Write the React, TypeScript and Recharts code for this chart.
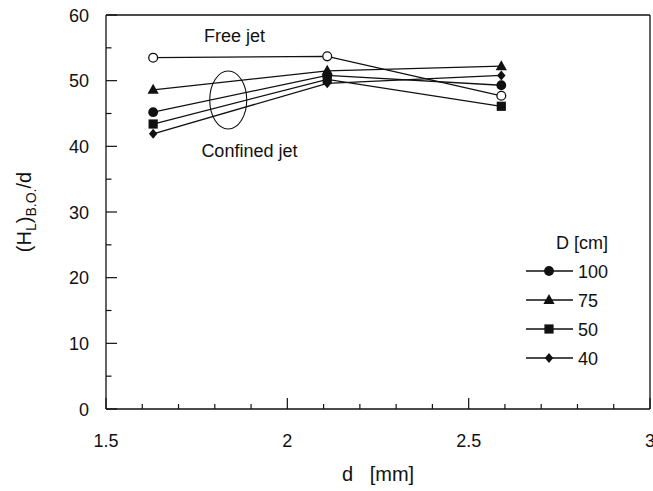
import React from 'react';
import { LineChart, Line, XAxis, YAxis, Legend, ReferenceDot, ReferenceLine, Label } from 'recharts';

const dValues = [1.63, 2.11, 2.59];
const freeJet = [53.5, 53.7, 47.7];
const d100 = [45.2, 50.8, 49.3];
const d75 = [48.6, 51.5, 52.2];
const d50 = [43.4, 50.2, 46.1];
const d40 = [41.9, 49.6, 50.8];
const legendTitle = 'D [cm]';
const legendLabels = ['100', '75', '50', '40'];
const xTicks = [1.5, 1.6, 1.7, 1.8, 1.9, 2.0, 2.1, 2.2, 2.3, 2.4, 2.5, 2.6, 2.7, 2.8, 2.9, 3.0];
const yTicks = [0, 5, 10, 15, 20, 25, 30, 35, 40, 45, 50, 55, 60];
const xTitle = 'd   [mm]';
const annotFree = { x: 1.77, y: 55.9, text: 'Free jet' };
const annotConfined = { x: 1.763, y: 38.4, text: 'Confined jet' };
const ellipseCenter = { x: 1.837, y: 47.05 };

const FONT = '"Liberation Sans", Arial, Helvetica, sans-serif';
const INK = '#111';

const data = dValues.map((d, i) => ({
  d,
  free: freeJet[i],
  s100: d100[i],
  s75: d75[i],
  s50: d50[i],
  s40: d40[i],
}));

type Shape = 'circle' | 'triangle' | 'square' | 'diamond' | 'open';

const Marker = ({ cx, cy, shape }: { cx: number; cy: number; shape: Shape }) => {
  if (cx == null || cy == null) return null;
  switch (shape) {
    case 'circle':
      return <circle cx={cx} cy={cy} r={4.9} fill={INK} />;
    case 'triangle':
      return <polygon points={`${cx},${cy - 6} ${cx - 5.6},${cy + 4} ${cx + 5.6},${cy + 4}`} fill={INK} />;
    case 'square':
      return <rect x={cx - 4.6} y={cy - 4.6} width={9.2} height={9.2} fill={INK} />;
    case 'diamond':
      return <polygon points={`${cx},${cy - 5} ${cx + 4.2},${cy} ${cx},${cy + 5} ${cx - 4.2},${cy}`} fill={INK} />;
    case 'open':
    default:
      return <circle cx={cx} cy={cy} r={4.4} fill="#fff" stroke={INK} strokeWidth={1.3} />;
  }
};

const series: { key: string; shape: Shape; label: string | null }[] = [
  { key: 'free', shape: 'open', label: null },
  { key: 's100', shape: 'circle', label: legendLabels[0] },
  { key: 's75', shape: 'triangle', label: legendLabels[1] },
  { key: 's50', shape: 'square', label: legendLabels[2] },
  { key: 's40', shape: 'diamond', label: legendLabels[3] },
];

const isMajorX = (v: number) => Math.abs(v * 2 - Math.round(v * 2)) < 1e-6;
const fmtX = (v: number) => String(Math.round(v * 10) / 10);

const XTick = (props: any) => {
  const { x, y, payload } = props;
  const v = payload.value as number;
  const major = isMajorX(v);
  return (
    <g>
      <line x1={x} x2={x} y1={y} y2={y - (major ? 11 : 5)} stroke={INK} strokeWidth={1.2} />
      {major && (
        <text x={x} y={y + 38} textAnchor="middle" fontSize={18} fontFamily={FONT} fill={INK}>
          {fmtX(v)}
        </text>
      )}
    </g>
  );
};

const YTick = (props: any) => {
  const { x, y, payload } = props;
  const v = payload.value as number;
  const major = v % 10 === 0;
  return (
    <g>
      <line x1={x} x2={x + (major ? 11 : 5.5)} y1={y} y2={y} stroke={INK} strokeWidth={1.2} />
      {major && (
        <text x={x - 17} y={y + 6.5} textAnchor="end" fontSize={18} fontFamily={FONT} fill={INK}>
          {v}
        </text>
      )}
    </g>
  );
};

const YTitle = (props: any) => {
  const vb = props.viewBox || { x: 0, y: 15, width: 106, height: 394 };
  const cx = vb.x + 31;
  const cy = vb.y + vb.height / 2;
  return (
    <text
      x={cx}
      y={cy}
      transform={`rotate(-90 ${cx} ${cy})`}
      textAnchor="middle"
      fontSize={20}
      fontFamily={FONT}
      fill={INK}
    >
      (H
      <tspan fontSize={14} dy={5}>L</tspan>
      <tspan dy={-5}>)</tspan>
      <tspan fontSize={14} dy={5}>B.O.</tspan>
      <tspan dy={-5}>/d</tspan>
    </text>
  );
};

const XTitle = (props: any) => {
  const vb = props.viewBox || { x: 106, y: 409, width: 544, height: 82 };
  return (
    <text
      x={vb.x + vb.width / 2}
      y={vb.y + 72}
      textAnchor="middle"
      fontSize={20}
      fontFamily={FONT}
      fill={INK}
      style={{ whiteSpace: 'pre' }}
    >
      {xTitle}
    </text>
  );
};

const LegendContent = () => (
  <svg width={133} height={140} style={{ display: 'block', overflow: 'visible' }}>
    <text x={36} y={23.5} fontSize={18} fontFamily={FONT} fill={INK}>
      {legendTitle}
    </text>
    {series
      .filter((s) => s.label)
      .map((s, i) => {
        const cy = 46 + i * 29;
        return (
          <g key={s.key}>
            <line x1={6} x2={53} y1={cy} y2={cy} stroke={INK} strokeWidth={1.3} />
            <Marker cx={29} cy={cy} shape={s.shape} />
            <text x={58} y={cy + 6.5} fontSize={18} fontFamily={FONT} fill={INK}>
              {s.label}
            </text>
          </g>
        );
      })}
  </svg>
);

export default function App() {
  return (
    <div style={{ position: 'absolute', left: 0, top: 0, width: 653, height: 491, background: '#fff', fontFamily: FONT }}>
      <LineChart width={653} height={491} data={data} margin={{ top: 15, right: 3, bottom: 0, left: 0 }}>
        <XAxis
          dataKey="d"
          type="number"
          domain={[1.5, 3]}
          ticks={xTicks}
          interval={0}
          height={82}
          tickSize={0}
          tickMargin={0}
          tickLine={false}
          tick={<XTick />}
          axisLine={{ stroke: INK, strokeWidth: 1.3 }}
          allowDecimals
        >
          <Label content={<XTitle />} />
        </XAxis>
        <YAxis
          type="number"
          domain={[0, 60]}
          ticks={yTicks}
          interval={0}
          width={106}
          tickSize={0}
          tickMargin={0}
          tickLine={false}
          tick={<YTick />}
          axisLine={{ stroke: INK, strokeWidth: 1.3 }}
        >
          <Label content={<YTitle />} />
        </YAxis>
        <ReferenceLine y={60} stroke={INK} strokeWidth={1.3} />
        <ReferenceLine x={3} stroke={INK} strokeWidth={1.3} />
        {series.map((s) => (
          <Line
            key={s.key}
            dataKey={s.key}
            type="linear"
            stroke={INK}
            strokeWidth={1.3}
            isAnimationActive={false}
            legendType="none"
            dot={(p: any) => <Marker key={`${s.key}-${p.index}`} cx={p.cx} cy={p.cy} shape={s.shape} />}
            activeDot={false}
          />
        ))}
        <ReferenceDot
          x={ellipseCenter.x}
          y={ellipseCenter.y}
          r={1}
          shape={(p: any) => (
            <ellipse cx={p.cx} cy={p.cy} rx={18.5} ry={29} fill="none" stroke={INK} strokeWidth={1.1} />
          )}
        />
        <ReferenceDot
          x={annotFree.x}
          y={annotFree.y}
          r={1}
          shape={(p: any) => (
            <text x={p.cx} y={p.cy} fontSize={18} fontFamily={FONT} fill={INK}>
              {annotFree.text}
            </text>
          )}
        />
        <ReferenceDot
          x={annotConfined.x}
          y={annotConfined.y}
          r={1}
          shape={(p: any) => (
            <text x={p.cx} y={p.cy} fontSize={18} fontFamily={FONT} fill={INK}>
              {annotConfined.text}
            </text>
          )}
        />
        <Legend
          layout="vertical"
          align="center"
          verticalAlign="middle"
          wrapperStyle={{ left: 520, top: 225, width: 133, height: 140 }}
          content={<LegendContent />}
        />
      </LineChart>
    </div>
  );
}
